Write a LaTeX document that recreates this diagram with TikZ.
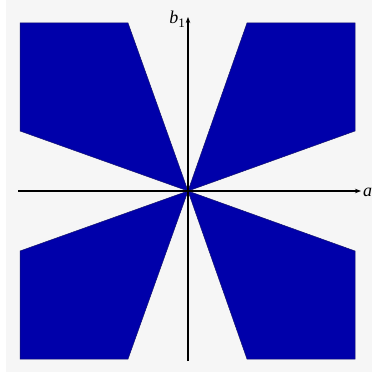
\documentclass[tikz,border=0pt]{standalone}
\usepackage{fontspec}
\setmainfont{Liberation Serif}
\usetikzlibrary{arrows.meta}
\definecolor{bg}{RGB}{246,246,246}
\definecolor{reg}{RGB}{0,0,170}
\definecolor{regedge}{RGB}{20,20,110}
\newcommand{\lowsub}[1]{\raisebox{-0.2em}{\fontsize{13}{14}\selectfont #1}}
\tikzset{
  region/.style={fill=reg, draw=regedge, line width=0.5pt, line join=miter},
  axis/.style={line width=1.1pt, -{Stealth[length=6pt,width=4.5pt]}},
  axlabel/.style={inner sep=0pt, font=\fontsize{18}{20}\selectfont}
}
\begin{document}
\begin{tikzpicture}[x=1pt,y=-1pt]
\useasboundingbox (0,0) rectangle (372,374);
\fill[bg] (6,0) rectangle (372,372);
\coordinate (O) at (188,191);
% top-left
\draw[region] (20,23) -- (128,23) -- (O) -- (20,131) -- cycle;
% top-right
\draw[region] (247,23) -- (355,23) -- (355,131) -- (O) -- cycle;
% bottom-left
\draw[region] (20,251) -- (O) -- (128,359) -- (20,359) -- cycle;
% bottom-right
\draw[region] (O) -- (355,251) -- (355,359) -- (247,359) -- cycle;
% axes
\coordinate (xs) at (18,191);
\coordinate (xe) at (361,191);
\coordinate (ys) at (188,361);
\coordinate (ye) at (188,17);
\draw[axis] (xs) -- (xe);
\draw[axis] (ys) -- (ye);
\node[axlabel, anchor=base west] (alab) at (363,196) {\textit{a}\lowsub{1}};
\node[axlabel, anchor=base east] (blab) at (185,24) {\textit{b}\lowsub{1}};
\end{tikzpicture}
\end{document}
